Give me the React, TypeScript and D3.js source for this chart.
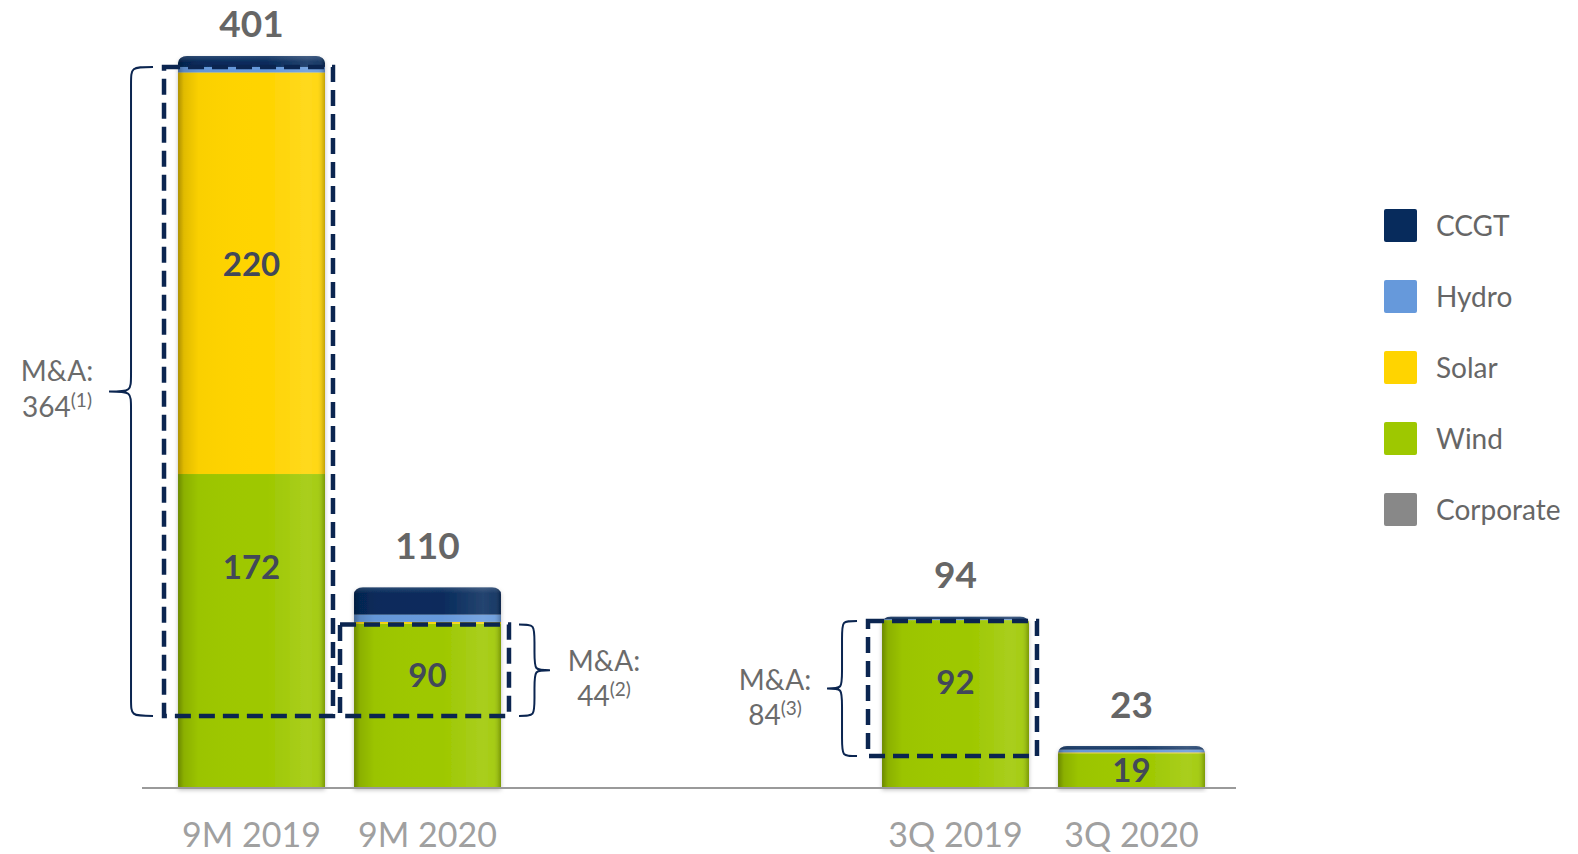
import React from "react";
import * as d3 from "d3";

// ---------- data ----------
const categories = ["9M 2019", "9M 2020", "3Q 2019", "3Q 2020"];
const slots = ["9M 2019", "9M 2020", "_gapA", "_gapB", "3Q 2019", "3Q 2020"];
const seriesNames = ["Corporate", "Wind", "Solar", "Hydro", "CCGT"]; // bottom -> top
const corporate = [0, 0, 0, 0];
const wind = [172, 90, 92, 19];
const solar = [220, 1, 0, 0.5];
const hydro = [3, 4, 0.5, 1.5];
const ccgt = [6, 15, 1.5, 2];
const totals = [401, 110, 94, 23];
const legendNames = ["CCGT", "Hydro", "Solar", "Wind", "Corporate"];
const colors: Record<string, string> = {
  CCGT: "#072B5C",
  Hydro: "#6699DB",
  Solar: "#FFD400",
  Wind: "#9EC800",
  Corporate: "#888888",
};
// M&A annotation (per category; null = none)
const maValues = [364, 44, 84, null];
const maNotes = ["(1)", "(2)", "(3)", null];
const maTop = [395, 89.5, 91.5, null];
const maBottom = [39.5, 39.5, 17.5, null];
const maSide = ["left", "right", "left", null];
// inside labels: [category index, series, value shown, anchor value]
const insideLabels: [number, string, number, number][] = [
  [0, "Solar", 220, 287],
  [0, "Wind", 172, 121],
  [1, "Wind", 90, 62],
  [2, "Wind", 92, 58],
  [3, "Wind", 19, 10],
];

const W = 1578;
const H = 854;

export default function App() {
  const x = d3
    .scaleBand<string>()
    .domain(slots)
    .range([163.5, 1219.5])
    .paddingInner(0.165)
    .paddingOuter(0.0825);
  const y = d3.scaleLinear().domain([0, 401]).range([788, 56]);
  const bw = x.bandwidth();

  const valuesBy: Record<string, number[]> = {
    Corporate: corporate,
    Wind: wind,
    Solar: solar,
    Hydro: hydro,
    CCGT: ccgt,
  };
  const rows = categories.map((c, i) => {
    const r: any = { cat: c };
    seriesNames.forEach((s) => (r[s] = valuesBy[s][i]));
    return r;
  });
  const stacked = d3.stack().keys(seriesNames)(rows);

  const font = "Lato, 'Open Sans', sans-serif";
  const navy = "#0B2550";

  const bracePath = (
    xe: number,
    xv: number,
    xt: number,
    y0: number,
    y1: number
  ) => {
    const ym = (y0 + y1) / 2;
    const r = Math.min(18, (y1 - y0) / 5);
    return [
      `M${xe},${y0}`,
      `C${xv},${y0} ${xv},${y0} ${xv},${y0 + r}`,
      `L${xv},${ym - r}`,
      `C${xv},${ym} ${xv},${ym} ${xt},${ym}`,
      `C${xv},${ym} ${xv},${ym} ${xv},${ym + r}`,
      `L${xv},${y1 - r}`,
      `C${xv},${y1} ${xv},${y1} ${xe},${y1}`,
    ].join(" ");
  };

  return (
    <svg
      width={W}
      height={H}
      style={{ position: "absolute", left: 0, top: 0, background: "#fff" }}
    >
      <defs>
        <linearGradient id="shade" x1="0" x2="1" y1="0" y2="0">
          <stop offset="0" stopColor="#000" stopOpacity="0.32" />
          <stop offset="0.04" stopColor="#000" stopOpacity="0.12" />
          <stop offset="0.14" stopColor="#000" stopOpacity="0.02" />
          <stop offset="0.6" stopColor="#fff" stopOpacity="0.0" />
          <stop offset="0.88" stopColor="#fff" stopOpacity="0.12" />
          <stop offset="0.95" stopColor="#fff" stopOpacity="0.08" />
          <stop offset="1" stopColor="#000" stopOpacity="0.25" />
        </linearGradient>
        <linearGradient id="topHi" x1="0" x2="0" y1="0" y2="1">
          <stop offset="0" stopColor="#fff" stopOpacity="0.15" />
          <stop offset="1" stopColor="#fff" stopOpacity="0" />
        </linearGradient>
        <filter id="sh" x="-10%" y="-10%" width="120%" height="120%">
          <feDropShadow dx="0" dy="2" stdDeviation="2" floodColor="#000" floodOpacity="0.25" />
        </filter>
        {categories.map((c, i) => {
          const x0 = x(c)!;
          const top = y(totals[i]);
          return (
            <clipPath id={`clip${i}`} key={c}>
              <rect x={x0} y={top} width={bw} height={y(0) - top + 12} rx={9} ry={7} />
            </clipPath>
          );
        })}
      </defs>

      {/* bars */}
      {categories.map((c, i) => {
        const x0 = x(c)!;
        const top = y(totals[i]);
        return (
          <g key={c} filter="url(#sh)">
            <g clipPath={`url(#clip${i})`}>
              {stacked.map((layer) => {
                const seg = layer[i];
                if (seg[1] - seg[0] <= 0) return null;
                return (
                  <rect
                    key={layer.key}
                    x={x0}
                    y={y(seg[1])}
                    width={bw}
                    height={y(seg[0]) - y(seg[1])}
                    fill={colors[layer.key]}
                  />
                );
              })}
              <rect x={x0} y={top} width={bw} height={y(0) - top} fill="url(#shade)" />
              <rect x={x0} y={top} width={bw} height={6} fill="url(#topHi)" />
            </g>
          </g>
        );
      })}

      {/* baseline */}
      <line x1={142} x2={1236} y1={y(0)} y2={y(0)} stroke="#9a9a9a" strokeWidth={2} />

      {/* inside labels */}
      {insideLabels.map(([ci, s, v, a]) => (
        <text
          key={`${ci}-${s}`}
          x={x(categories[ci])! + bw / 2}
          y={y(a)}
          dy="0.36em"
          textAnchor="middle"
          fontFamily={font}
          fontWeight={700}
          fontSize={33}
          fill="#424859"
        >
          {v}
        </text>
      ))}

      {/* totals */}
      {categories.map((c, i) => (
        <text
          key={c}
          x={x(c)! + bw / 2}
          y={Math.max(37, y(totals[i]) - 28)}
          textAnchor="middle"
          fontFamily={font}
          fontWeight={700}
          fontSize={37}
          fill="#666666"
        >
          {totals[i]}
        </text>
      ))}

      {/* M&A boxes and braces */}
      {categories.map((c, i) => {
        if (maValues[i] == null) return null;
        const x0 = x(c)! - 14;
        const x1 = x(c)! + bw + 8;
        const y0 = y(maTop[i]!);
        const y1 = y(maBottom[i]!);
        const left = maSide[i] === "left";
        const big = y1 - y0 > 300;
        const depth = big ? 55 : 41;
        const xe = left ? x0 - 11 : x1 + 10;
        const xt = left ? xe - depth + 11 : xe + depth - 10;
        const xv = (xe + xt) / 2;
        const ym = (y0 + y1) / 2;
        const tx = left ? xt - 52 : xt + 54;
        return (
          <g key={c}>
            <rect
              x={x0}
              y={y0}
              width={x1 - x0}
              height={y1 - y0}
              fill="none"
              stroke={navy}
              strokeWidth={4.5}
              strokeDasharray="16 8"
            />
            <path d={bracePath(xe, xv, xt, y0, y1)} fill="none" stroke={navy} strokeWidth={2} />
            <text
              x={tx}
              y={ym + (big ? -10 : 1)}
              textAnchor="middle"
              fontFamily={font}
              fontSize={28}
              fill="#6b6b6b"
            >
              M&amp;A:
            </text>
            <text
              x={tx}
              y={ym + (big ? 26 : 36)}
              textAnchor="middle"
              fontFamily={font}
              fontSize={28}
              fill="#6b6b6b"
            >
              {maValues[i]}
              <tspan fontSize={19} dy={-10}>
                {maNotes[i]}
              </tspan>
            </text>
          </g>
        );
      })}

      {/* x labels */}
      {categories.map((c) => (
        <text
          key={c}
          x={x(c)! + bw / 2}
          y={847}
          textAnchor="middle"
          fontFamily={font}
          fontSize={34}
          fill="#a0a0a0"
        >
          {c}
        </text>
      ))}

      {/* legend */}
      {legendNames.map((n, k) => (
        <g key={n} transform={`translate(1384, ${209 + k * 71})`}>
          <rect width={33} height={33} rx={2} fill={colors[n]} />
          <text x={52} y={27} fontFamily={font} fontSize={28} fill="#666666">
            {n}
          </text>
        </g>
      ))}
    </svg>
  );
}
